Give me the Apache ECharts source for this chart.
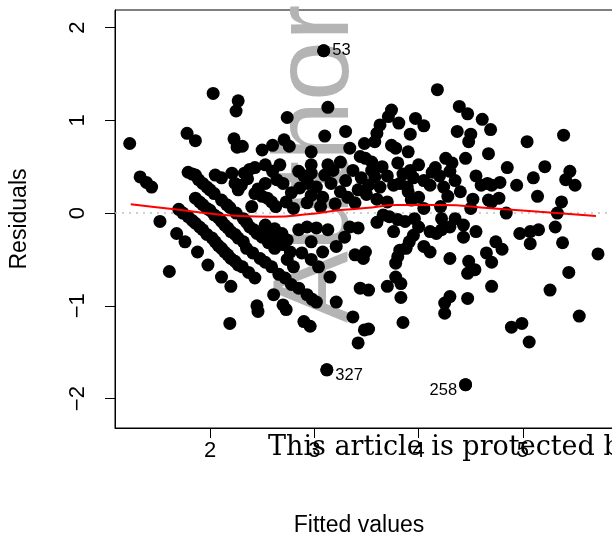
<!DOCTYPE html>
<html><head><meta charset="utf-8">
<script src="https://cdn.jsdelivr.net/npm/echarts@6/dist/echarts.min.js"></script>
<style>html,body{margin:0;padding:0;background:#fff;overflow:hidden;width:612px;height:539px}#c{width:640px;height:539px}</style>
</head><body><div id="c"></div>
<script>
// Fitted values / residuals
const fitted = [
3.09,2.03,2.27,2.25,3.13,4.18,2.74,1.78,1.86,2.23,2.26,1.23,3.10,3.30,3.34,3.44,3.48,2.31,2.50,2.60,2.71,2.76,2.97,2.43,2.53,2.67,2.97,3.13,
3.74,3.71,3.81,3.97,4.05,3.92,3.63,3.60,3.58,3.74,3.78,3.90,4.39,4.47,4.61,4.37,4.50,4.48,4.69,4.67,4.45,4.26,4.32,4.16,4.00,3.80,3.49,
5.04,5.39,4.85,5.21,5.45,
5.10,5.41,5.50,4.94,4.78,4.70,5.14,5.37,4.77,4.70,4.84,5.33,4.97,5.07,5.15,5.31,5.07,5.38,4.74,4.80,5.72,4.70,5.44,4.70,5.26,
4.89,4.99,5.06,5.54,3.52,3.85,4.25,4.45,2.46,2.73,2.90,2.96,3.37,3.48,3.42,3.12,2.19,
3.55,3.58,3.52,3.63,3.76,3.82,3.89,3.90,4.00,3.93,4.11,4.24,4.40,4.35,4.13,3.92,4.66,4.67,
3.66,3.72,3.80,3.87,3.96,4.21,4.22,4.35,4.43,4.22,4.11,4.17,4.43,3.76,3.95,3.91,3.88,3.82,3.80,3.78,4.05,4.11,4.30,4.65,4.48,4.54,4.47,3.49,3.78,3.83,3.70,3.52,3.83,4.30,4.25,4.47,
2.33,2.30,2.53,2.70,2.50,2.43,2.59,2.73,2.40,2.86,2.94,2.97,2.93,3.06,2.97,3.10,3.16,3.25,3.39,3.18,3.37,3.32,
2.32,2.38,2.45,2.53,2.58,2.64,2.70,2.77,2.69,2.85,2.93,3.02,3.13,3.34,3.42,2.97,3.08,3.21,3.29,2.32,2.35,2.41,2.48,2.59,2.80,2.97,3.04,3.15,3.39,3.47,2.43,2.72,2.85,2.93,2.61,3.21,3.02,3.44,2.45,2.70,
1.33,1.39,1.44,1.52,1.68,1.76,1.88,1.98,1.61,2.11,2.20,
1.70,1.79,1.86,1.93,2.02,2.08,2.14,2.20,2.27,
1.79,1.86,1.93,2.00,2.05,2.11,2.21,2.24,2.27,1.86,1.93,2.00,2.16,2.25,2.08,2.14,2.20,2.27,
1.74,1.83,1.90,1.97,2.05,2.11,2.17,2.24,2.31,2.37,
1.90,1.97,2.04,2.11,2.17,2.24,2.53,2.66,2.78,2.98,
1.83,1.89,1.97,2.04,2.11,2.19,
2.35,2.42,2.50,2.56,2.62,2.74,2.62,2.74,2.88,
2.36,2.46,2.55,2.63,2.80,2.38,2.64,2.78,2.90,3.02,3.08,3.20,3.30,3.45,3.42,2.85,3.25,2.60,
3.55,3.65,3.70,3.85,3.95,4.05,4.20,4.30,4.55,4.60,4.28,4.52,3.60,3.70,3.50,4.05,4.50,
3.60,4.00,4.30,4.55
];
const residuals = [
1.75,1.29,1.21,1.10,1.14,1.33,1.03,0.86,0.78,0.80,0.71,0.75,0.83,0.88,0.70,0.61,0.75,0.72,0.68,0.73,0.79,0.72,0.66,0.49,0.52,0.52,0.52,0.52,
1.11,1.04,0.97,1.02,0.94,0.85,0.95,0.86,0.77,0.73,0.70,0.66,1.15,1.07,1.01,0.88,0.85,0.77,0.90,0.64,0.59,0.59,0.54,0.49,0.52,0.54,0.59,
0.77,0.84,0.49,0.50,0.45,
0.38,0.36,0.30,0.30,0.33,0.30,0.18,0.12,0.16,0.12,0.00,0.00,-0.22,-0.20,-0.18,-0.15,-0.33,-0.32,-0.31,-0.39,-0.44,-0.53,-0.64,-0.79,-0.83,
-1.23,-1.19,-1.39,-1.11,-1.25,-1.18,-1.08,-1.85,-1.06,-1.04,-1.17,-1.22,-1.12,-1.26,-1.40,-1.69,-1.19,
0.46,0.39,0.30,0.28,0.30,0.32,0.28,0.23,0.17,0.14,0.30,0.28,0.23,0.35,0.44,0.46,0.32,0.14,
-0.02,-0.04,-0.07,-0.09,-0.06,0.07,-0.06,-0.06,-0.13,-0.18,-0.20,-0.22,-0.26,-0.20,-0.24,-0.31,-0.38,-0.40,-0.47,-0.54,-0.36,-0.42,-0.49,-0.43,-0.52,-0.61,-0.65,-0.42,-0.69,-0.76,-0.79,-0.83,-0.91,-0.90,-0.97,-0.92,
0.43,0.30,0.32,0.32,0.18,0.21,0.12,0.12,0.07,0.27,0.32,0.19,0.11,0.07,0.43,0.41,0.32,0.23,0.11,0.46,0.46,0.17,
-0.06,-0.15,-0.22,-0.13,-0.20,-0.27,-0.34,-0.42,-0.22,-0.18,-0.15,-0.16,-0.18,-0.15,-0.16,-0.31,-0.42,-0.36,-0.26,-0.31,-0.38,-0.43,-0.49,-0.58,-0.58,-0.50,-0.58,-0.69,-0.45,-0.49,-0.70,-0.70,-0.81,-0.88,-0.88,-0.96,-0.96,-0.81,-1.00,-0.99,
0.39,0.33,0.28,-0.09,-0.22,-0.31,-0.42,-0.56,-0.63,-0.69,-0.79,
0.04,-0.04,-0.11,-0.18,-0.27,-0.35,-0.42,-0.49,-0.56,
0.44,0.41,0.32,0.25,0.41,0.38,0.43,0.32,0.25,0.16,0.09,0.03,0.09,0.00,-0.05,-0.13,-0.20,-0.27,
0.00,-0.08,-0.15,-0.23,-0.31,-0.38,-0.45,-0.52,-0.58,-0.64,
0.12,0.05,-0.02,-0.09,-0.16,-0.23,-0.53,-0.66,-0.77,-0.93,
0.42,0.36,0.28,0.21,0.14,0.06,
-0.10,-0.18,-0.26,-0.32,-0.38,-0.50,-0.17,-0.29,-0.43,
0.37,0.26,0.16,0.07,0.05,0.47,0.36,0.22,0.40,0.28,0.17,0.10,0.35,0.38,0.25,0.45,0.55,0.45,
0.55,0.50,0.40,0.42,0.38,0.35,0.40,0.45,0.40,0.30,0.18,0.15,0.15,0.12,0.20,0.05,0.05,
-0.10,-0.15,-0.15,-0.20
];
// Labelled observations
const idLabels = ['53', '327', '258'];
const idFitted = [3.09, 3.12, 4.45];
const idResid = [1.75, -1.69, -1.85];
// Smoother (red line)
const smoothX = [1.24,1.66,2.29,2.60,2.93,3.25,3.49,3.80,4.22,4.69,5.16,5.70];
const smoothY = [0.094,0.04,-0.032,-0.04,-0.014,0.032,0.054,0.086,0.086,0.051,0.014,-0.032];
// Axes
const xTicks = [2, 3, 4, 5];
const yTicks = [-2, -1, 0, 1, 2];
const xRange = [1.089, 5.96];
const yRange = [-2.317, 2.189];

const pts = fitted.map((f, i) => [f, residuals[i]]);
const idData = idLabels.map((t, i) => ({
  value: [idFitted[i], idResid[i]], name: t,
  label: { position: i === 2 ? 'left' : 'right', offset: i === 0 ? [0, 0] : [0, 6] }
}));
const smooth = smoothX.map((x, i) => [x, smoothY[i]]);
const minus = v => String(v).replace('-', '\u2212');
const FONT = '"Liberation Sans", Arial, sans-serif';
const pxPerX = 104.3;
const gridW = (xRange[1] - xRange[0]) * pxPerX;

const chart = echarts.init(document.getElementById('c'), null, { renderer: 'canvas' });
chart.setOption({
  animation: false,
  backgroundColor: '#fff',
  grid: { left: 115, top: 10, width: gridW, height: 418, show: true, borderColor: '#000', borderWidth: 1,
          containLabel: false, outerBoundsMode: 'none' },
  xAxis: {
    type: 'value', min: xRange[0], max: xRange[1],
    name: 'Fitted values', nameLocation: 'middle', nameGap: 86,
    nameTextStyle: { fontFamily: FONT, fontSize: 23, color: '#000', padding: [0, 20, 0, 0] },
    axisLine: { show: true, onZero: false, lineStyle: { color: '#000', width: 1 } },
    axisTick: { show: true, length: 10, customValues: xTicks, lineStyle: { color: '#000' } },
    axisLabel: { customValues: xTicks, margin: 12, fontFamily: FONT, fontSize: 22, color: '#000', formatter: minus },
    splitLine: { show: false }
  },
  yAxis: {
    type: 'value', min: yRange[0], max: yRange[1],
    name: 'Residuals', nameLocation: 'middle', nameGap: 84, nameRotate: 90,
    nameTextStyle: { fontFamily: FONT, fontSize: 23, color: '#000' },
    axisLine: { show: true, onZero: false, lineStyle: { color: '#000', width: 1 } },
    axisTick: { show: true, length: 10, customValues: yTicks, lineStyle: { color: '#000' } },
    axisLabel: { customValues: yTicks, rotate: 90, margin: 26, fontFamily: FONT, fontSize: 22, color: '#000', formatter: minus },
    splitLine: { show: false }
  },
  graphic: [
    { type: 'text', z: 0, x: 318, y: 164, rotation: Math.PI / 2,
      style: { text: 'Author', fontFamily: FONT, fontSize: 108, fill: '#b4b4b4', align: 'center', verticalAlign: 'middle' } },
    { type: 'text', z: 100, x: 268, y: 461,
      style: { text: 'This article is protected by copyright. All rights reserved', fontFamily: '"DejaVu Serif", serif', fontSize: 27, fill: '#000', align: 'left', verticalAlign: 'bottom' } }
  ],
  series: [
    { type: 'line', data: [[xRange[0], 0], [xRange[1], 0]], symbol: 'none', silent: true, z: 1,
      lineStyle: { color: '#bebebe', type: [2, 5], width: 1.5 } },
    { type: 'scatter', data: pts, symbol: 'circle', symbolSize: 13, z: 3,
      itemStyle: { color: '#000', opacity: 1 }, silent: true },
    { type: 'line', data: smooth, smooth: true, symbol: 'none', z: 4, silent: true,
      lineStyle: { color: '#ff0000', width: 2 } },
    { type: 'scatter', data: idData, symbolSize: 13, z: 3, silent: true, itemStyle: { color: '#000', opacity: 1 },
      label: { show: true, formatter: '{b}', distance: 2, fontFamily: FONT, fontSize: 16.5, color: '#000' } }
  ]
});
</script></body></html>
